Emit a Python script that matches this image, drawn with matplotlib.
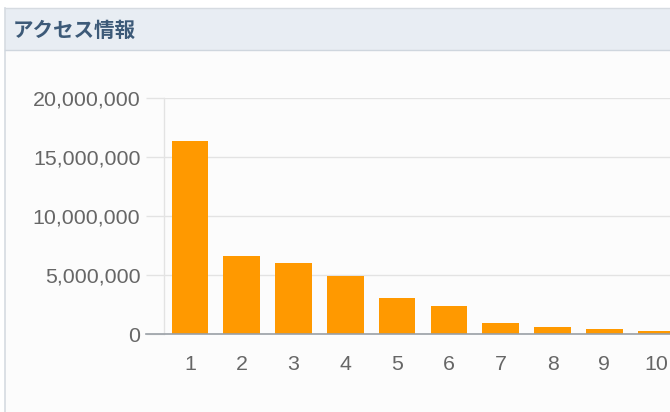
import matplotlib
matplotlib.use("Agg")
import matplotlib.pyplot as plt
from matplotlib.patches import Rectangle
from matplotlib.lines import Line2D
from matplotlib.ticker import FuncFormatter

title = "アクセス情報"
categories = ["1", "2", "3", "4", "5", "6", "7", "8", "9", "10"]
values = [16380000, 6600000, 6000000, 4890000, 3010000, 2360000, 910000, 600000, 430000, 290000]
yticks = [0, 5000000, 10000000, 15000000, 20000000]

W, H = 670, 412
fig = plt.figure(figsize=(W / 100, H / 100), dpi=100)
fig.patch.set_facecolor("#ffffff")

def fx(px):
    return px / W

def fy(py):
    return 1 - py / H

# panel body
fig.patches.append(Rectangle((fx(5), fy(412)), fx(700), (412 - 8) / H,
                             transform=fig.transFigure, facecolor="#fcfcfc",
                             edgecolor="none", zorder=0))
# header band
fig.patches.append(Rectangle((fx(5), fy(50)), fx(700), 42 / H,
                             transform=fig.transFigure, facecolor="#e8edf3",
                             edgecolor="none", zorder=1))
# borders
fig.lines.append(Line2D([fx(5), fx(5)], [fy(8), fy(412)], transform=fig.transFigure,
                        color="#d6dbe1", lw=1.2, zorder=2))
fig.lines.append(Line2D([fx(5), 1], [fy(8), fy(8)], transform=fig.transFigure,
                        color="#d6dbe1", lw=1.0, zorder=2))
fig.lines.append(Line2D([fx(5), 1], [fy(50), fy(50)], transform=fig.transFigure,
                        color="#cfd6de", lw=1.0, zorder=2))

fig.text(fx(13), fy(30), title, fontsize=14.8, fontweight="bold", color="#3d5a78",
         family=["Noto Sans CJK JP", "DejaVu Sans"], ha="left", va="center", zorder=3)

# axes: left at 164 px, baseline at 334 px, top (20M) at 98 px, category 10 right edge at 682 px
ax = fig.add_axes([fx(164), fy(334), (682 - 164) / W, (334 - 98) / H])
ax.set_zorder(5)
ax.set_facecolor("none")
x = list(range(1, len(categories) + 1))
ax.bar(x, values, width=0.71, color="#ff9900", zorder=3)
ax.set_xlim(0.5, len(categories) + 0.5)
ax.set_ylim(0, 20000000)
ax.set_yticks(yticks)
ax.yaxis.set_major_formatter(FuncFormatter(lambda v, p: f"{int(v):,}"))
ax.set_xticks(x)
ax.set_xticklabels(categories)

for s in ["top", "right", "bottom"]:
    ax.spines[s].set_visible(False)
ax.spines["left"].set_color("#e3e3e3")
ax.spines["left"].set_linewidth(1.0)

ax.grid(axis="y", color="#e3e3e3", linewidth=1.0, zorder=0)
ax.set_axisbelow(True)

ax.tick_params(axis="y", length=13, width=1.0, color="#e3e3e3", pad=4,
               labelsize=15.4, labelcolor="#666666")
ax.tick_params(axis="x", length=0, pad=15, labelsize=15.4, labelcolor="#666666")
for lab in ax.get_xticklabels() + ax.get_yticklabels():
    lab.set_family("Liberation Sans")

# baseline, extending left over the tick region
ax.add_line(Line2D([-18 / (682 - 164), 1], [0, 0], transform=ax.transAxes,
                   color="#9aa0a6", lw=1.2, clip_on=False, zorder=4))

fig.savefig("out.png", dpi=100)
